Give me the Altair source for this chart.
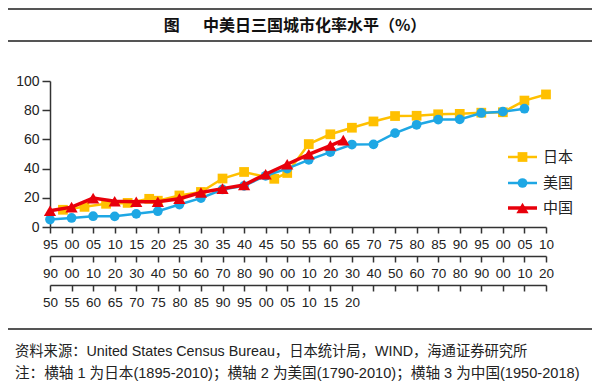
import altair as alt
import pandas as pd

# ---------------- data ----------------
japan_years = [1898, 1903, 1908, 1913, 1918, 1920, 1925, 1930, 1935, 1940, 1947, 1950,
               1955, 1960, 1965, 1970, 1975, 1980, 1985, 1990, 1995, 2000, 2005, 2010]
japan_rate = [11.8, 13.8, 15.9, 16.5, 19.3, 18.0, 21.6, 24.0, 33.2, 37.7, 33.0, 37.0,
              56.8, 63.5, 68.0, 72.3, 76.0, 76.2, 77.2, 77.5, 78.3, 78.6, 86.6, 90.8]

us_years = [1790, 1800, 1810, 1820, 1830, 1840, 1850, 1860, 1870, 1880, 1890, 1900,
            1910, 1920, 1930, 1940, 1950, 1960, 1970, 1980, 1990, 2000, 2010]
us_rate = [5.1, 6.2, 7.4, 7.3, 9.0, 10.8, 15.4, 19.8, 25.7, 28.2, 35.1, 40.0,
           46.0, 51.3, 56.5, 56.6, 64.3, 70.0, 73.6, 73.7, 78.1, 79.0, 81.0]

china_years = [1950, 1955, 1960, 1965, 1970, 1975, 1980, 1985, 1990, 1995, 2000, 2005,
               2010, 2015, 2018]
china_rate = [11.1, 13.6, 19.8, 17.6, 17.3, 17.3, 19.4, 23.6, 26.3, 28.8, 36.1, 43.0,
              49.8, 55.8, 59.5]

# axis tick values (each row shows two-digit years)
japan_ticks = [1895, 1900, 1905, 1910, 1915, 1920, 1925, 1930, 1935, 1940, 1945, 1950,
               1955, 1960, 1965, 1970, 1975, 1980, 1985, 1990, 1995, 2000, 2005, 2010]
us_ticks = [1790, 1800, 1810, 1820, 1830, 1840, 1850, 1860, 1870, 1880, 1890, 1900,
            1910, 1920, 1930, 1940, 1950, 1960, 1970, 1980, 1990, 2000, 2010, 2020]
china_ticks = [1950, 1955, 1960, 1965, 1970, 1975, 1980, 1985, 1990, 1995, 2000, 2005,
               2010, 2015, 2020, 2025, 2030, 2035, 2040, 2045, 2050, 2055, 2060, 2065]
china_last_label = 2020
y_ticks = [0, 20, 40, 60, 80, 100]

series_names = ["日本", "美国", "中国"]
series_colors = ["#FFC000", "#1EA7E4", "#E8000B"]
series_shapes = ["square", "circle", "triangle-up"]
series_sizes = [95, 95, 150]
series_widths = [2.5, 2.5, 3.5]

title_text = "图\u3000\u00a0\u00a0中美日三国城市化率水平（%）"
source_text = "资料来源：United States Census Bureau，日本统计局，WIND，海通证券研究所"
note_text = "注：横轴 1 为日本(1895-2010)；横轴 2 为美国(1790-2010)；横轴 3 为中国(1950-2018)"

# ---------------- styling ----------------
AXIS_COLOR = "#333333"
LATIN_FONT = "Liberation Sans"
CJK_FONT = "Noto Sans CJK SC"
MIX_FONT = "Liberation Sans, Noto Sans CJK SC"

y_axis = alt.Axis(values=y_ticks, title=None, grid=False, domainColor=AXIS_COLOR,
                  domainWidth=1.5, tickColor=AXIS_COLOR, tickWidth=1.5, tickSize=8,
                  labelFont=LATIN_FONT, labelFontSize=14, labelColor="#222222",
                  labelPadding=3)


def two_digit_expr(last=None):
    core = "slice('0' + (datum.value % 100), -2)"
    if last is None:
        return core
    return f"datum.value > {last} ? '' : {core}"


def x_axis(values, offset, expr):
    return alt.Axis(orient="bottom", offset=offset, values=values, labelExpr=expr,
                    title=None, grid=False, domainColor=AXIS_COLOR, domainWidth=1.5,
                    tickColor=AXIS_COLOR, tickWidth=1.5, tickSize=6,
                    labelFont=LATIN_FONT, labelFontSize=13.5, labelColor="#222222",
                    labelPadding=4, labelAngle=0, labelOverlap=False, labelFlush=False,
                    labelBound=False)


def series_layer(years, rates, idx, domain, axis):
    df = pd.DataFrame({"year": years, "rate": rates})
    base = alt.Chart(df).encode(
        x=alt.X("year:Q", scale=alt.Scale(domain=domain, nice=False, zero=False), axis=axis),
        y=alt.Y("rate:Q", scale=alt.Scale(domain=[0, 100], nice=False), axis=y_axis),
    )
    line = base.mark_line(color=series_colors[idx], strokeWidth=series_widths[idx])
    pts = base.mark_point(shape=series_shapes[idx], size=series_sizes[idx], filled=True,
                          color=series_colors[idx], opacity=1, strokeWidth=0)
    return alt.layer(line, pts)


japan_layer = series_layer(japan_years, japan_rate, 0, [japan_ticks[0], japan_ticks[-1]],
                           x_axis(japan_ticks, 0, two_digit_expr()))
us_layer = series_layer(us_years, us_rate, 1, [us_ticks[0], us_ticks[-1]],
                        x_axis(us_ticks, 29, two_digit_expr()))
china_layer = series_layer(china_years, china_rate, 2, [china_ticks[0], china_ticks[-1]],
                           x_axis(china_ticks, 58, two_digit_expr(china_last_label)))

one = pd.DataFrame({"k": [0]})

annotations = []
# horizontal frame lines
for yy in [-72, -40, 248]:
    annotations.append(
        alt.Chart(one).mark_rule(color="#555555", strokeWidth=2).encode(
            x=alt.value(-42), x2=alt.value(542), y=alt.value(yy))
    )
# title
annotations.append(
    alt.Chart(one).mark_text(font=CJK_FONT, fontSize=16, fontWeight="bold", color="#111111",
                             align="center", baseline="middle").encode(
        x=alt.value(245), y=alt.value(-55), text=alt.value(title_text))
)
# source & note
annotations.append(
    alt.Chart(one).mark_text(font=MIX_FONT, fontSize=14.3, color="#222222",
                             align="left", baseline="middle").encode(
        x=alt.value(-35), y=alt.value(271), text=alt.value(source_text))
)
annotations.append(
    alt.Chart(one).mark_text(font=MIX_FONT, fontSize=14.6, color="#222222",
                             align="left", baseline="middle").encode(
        x=alt.value(-35), y=alt.value(293), text=alt.value(note_text))
)

# legend (manual: line + marker + label)
legend_y = [76, 102, 127]
for i, name in enumerate(series_names):
    annotations.append(
        alt.Chart(one).mark_rule(color=series_colors[i], strokeWidth=series_widths[i]).encode(
            x=alt.value(458), x2=alt.value(487), y=alt.value(legend_y[i]))
    )
    annotations.append(
        alt.Chart(one).mark_point(shape=series_shapes[i], size=series_sizes[i], filled=True,
                                  color=series_colors[i], opacity=1, strokeWidth=0).encode(
            x=alt.value(472.5), y=alt.value(legend_y[i]))
    )
    annotations.append(
        alt.Chart(one).mark_text(font=CJK_FONT, fontSize=15, color="#222222",
                                 align="left", baseline="middle").encode(
            x=alt.value(493), y=alt.value(legend_y[i]), text=alt.value(name))
    )

chart = alt.layer(japan_layer, us_layer, china_layer, *annotations).resolve_scale(
    x="independent"
).properties(
    width=496,
    height=146,
    autosize=alt.AutoSizeParams(type="none"),
    padding={"left": 42, "top": 73, "right": 46, "bottom": 156},
    background="white",
).configure_view(strokeWidth=0)

chart.save("out.html", embed_options={"renderer": "svg", "actions": False})
